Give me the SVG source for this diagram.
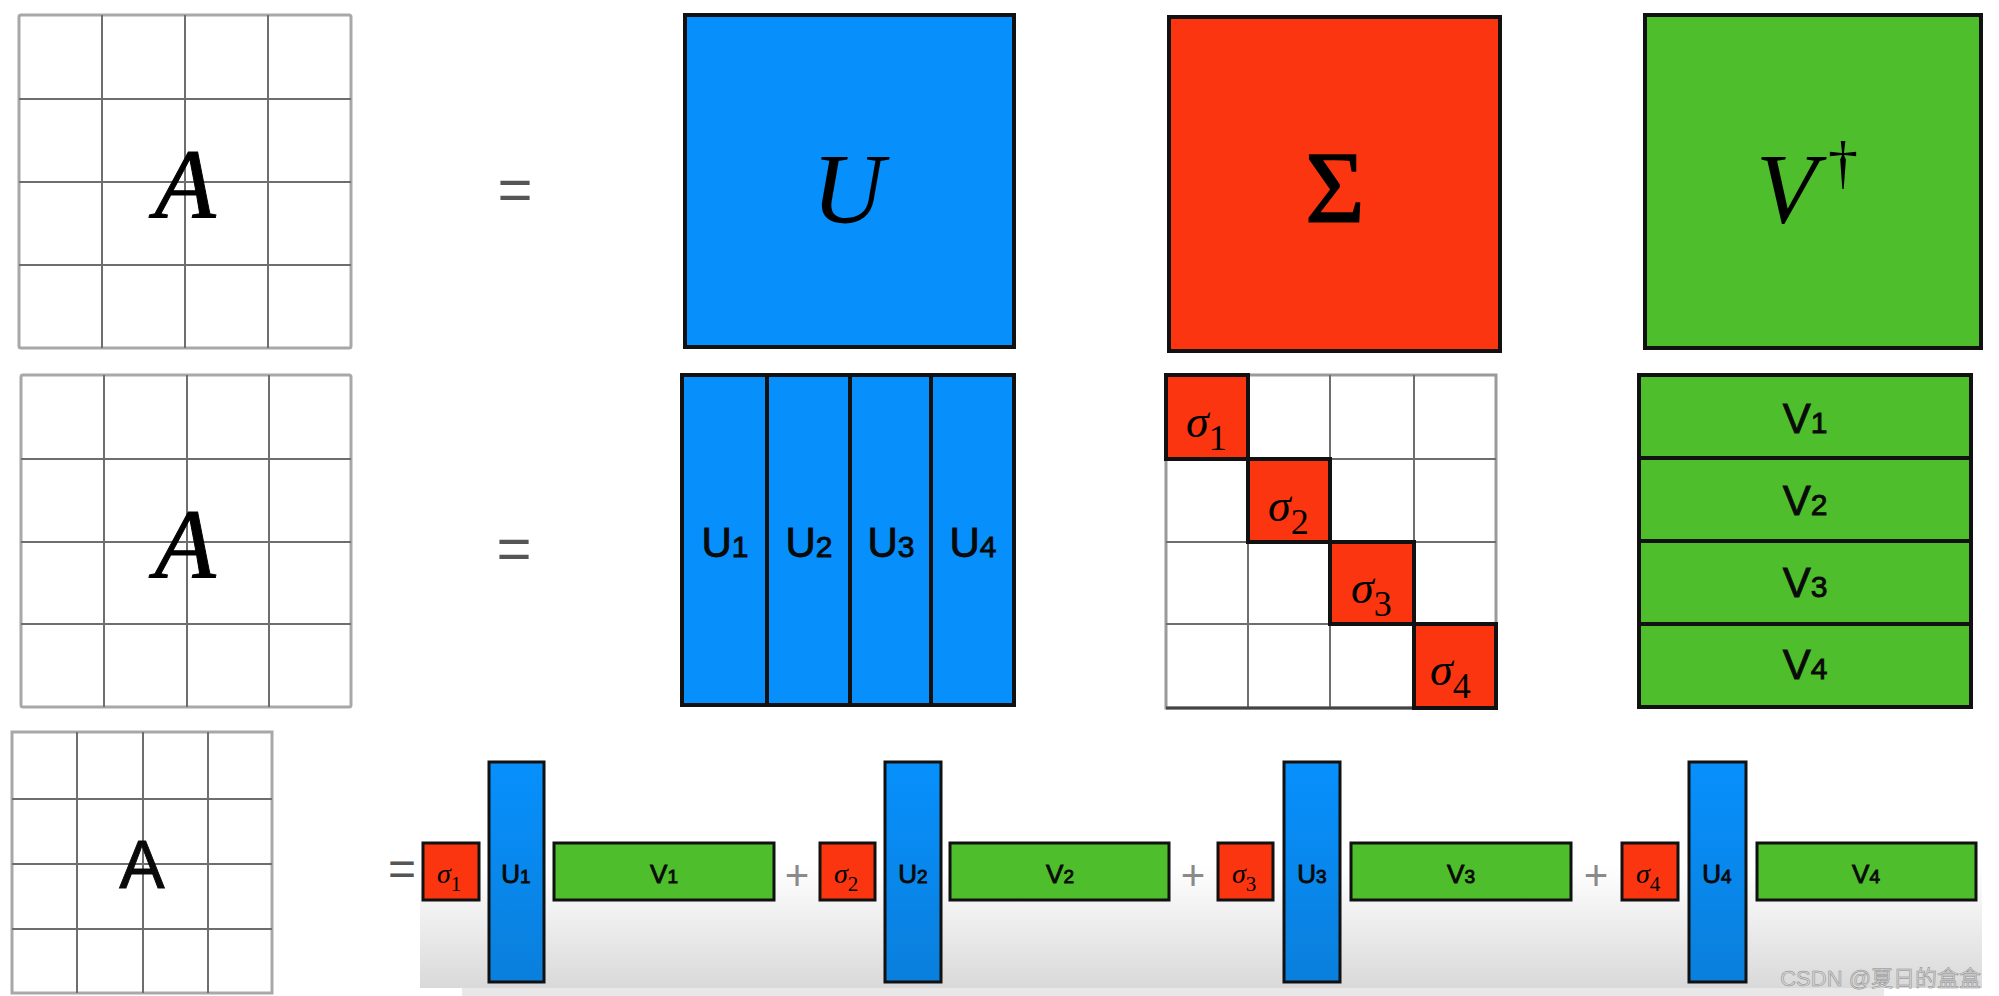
<svg xmlns="http://www.w3.org/2000/svg" width="1999" height="996" viewBox="0 0 1999 996">
<defs>
<linearGradient id="panel" x1="0" y1="0" x2="0" y2="1">
<stop offset="0" stop-color="#ffffff"/>
<stop offset="1" stop-color="#d9d9d9"/>
</linearGradient>
<linearGradient id="ubar" x1="0" y1="0" x2="0" y2="1">
<stop offset="0" stop-color="#0790fc"/>
<stop offset="1" stop-color="#0a7fdc"/>
</linearGradient>
<style>
.gridOuter{fill:#fff;stroke:#a8a8a8;stroke-width:3}
.gridLine{stroke:#6e6e6e;stroke-width:2;fill:none}
.blue{fill:#078ffb;stroke:#111;stroke-width:4}
.red{fill:#fb3510;stroke:#111;stroke-width:4}
.green{fill:#4ebe2c;stroke:#111;stroke-width:4}
.blue3{fill:url(#ubar);stroke:#111;stroke-width:3}
.red3{fill:#fb3510;stroke:#111;stroke-width:3}
.green3{fill:#4ebe2c;stroke:#111;stroke-width:3}
.bar{stroke:#111;stroke-width:4}
.serifI{font-family:"Liberation Serif",serif;font-style:italic;fill:#000}
.serif{font-family:"Liberation Serif",serif;fill:#000}
.sans{font-family:"Liberation Sans",Arial,sans-serif;fill:#0a0a0a;stroke:#0a0a0a;stroke-width:0.9}
.op{font-family:"Liberation Sans",Arial,sans-serif;fill:#555}
.plus{font-family:"Liberation Sans",Arial,sans-serif;fill:#8a8a8a}
</style>
</defs>
<rect width="1999" height="996" fill="#fff"/>

<!-- Row 1 -->
<g id="A1">
<rect class="gridOuter" x="19" y="15" width="332" height="333" rx="2"/>
<path class="gridLine" d="M102 15V348M185 15V348M268 15V348M19 99H351M19 182H351M19 265H351"/>
<text class="serifI" x="185" y="218" font-size="100" text-anchor="middle" stroke="#000" stroke-width="1">A</text>
</g>
<g id="eq1"><text class="op" x="515" y="210" font-size="60" text-anchor="middle">=</text></g>
<g id="U">
<rect class="blue" x="685" y="15" width="329" height="332"/>
<text class="serifI" x="848" y="222" font-size="100" text-anchor="middle">U</text>
</g>
<g id="Sigma">
<rect class="red" x="1169" y="17" width="331" height="334"/>
<text class="serif" x="1335" y="222" font-size="102" text-anchor="middle" stroke="#000" stroke-width="1.5">Σ</text>
</g>
<g id="Vdag">
<rect class="green" x="1645" y="15" width="336" height="333"/>
<text class="serifI" x="1756" y="222" font-size="100">V</text>
<text class="serif" x="1828" y="182" font-size="60">†</text>
</g>

<!-- Row 2 -->
<g id="A2">
<rect class="gridOuter" x="21" y="375" width="330" height="332" rx="2"/>
<path class="gridLine" d="M104 375V707M187 375V707M269 375V707M21 459H351M21 542H351M21 624H351"/>
<text class="serifI" x="185" y="578" font-size="100" text-anchor="middle" stroke="#000" stroke-width="1">A</text>
</g>
<g id="eq2"><text class="op" x="514" y="569" font-size="60" text-anchor="middle">=</text></g>
<g id="Ucols">
<rect class="blue" x="682" y="375" width="332" height="330"/>
<path class="bar" d="M767 375V705M850 375V705M931 375V705"/>
<text class="sans" x="725" y="557" font-size="42" text-anchor="middle">U<tspan font-size="30">1</tspan></text>
<text class="sans" x="809" y="557" font-size="42" text-anchor="middle">U<tspan font-size="30">2</tspan></text>
<text class="sans" x="891" y="557" font-size="42" text-anchor="middle">U<tspan font-size="30">3</tspan></text>
<text class="sans" x="973" y="557" font-size="42" text-anchor="middle">U<tspan font-size="30">4</tspan></text>
</g>
<g id="SigmaDiag">
<rect x="1166" y="375" width="330" height="333" fill="#fff" stroke="#9a9a9a" stroke-width="3"/>
<path class="gridLine" d="M1248 375V708M1330 375V708M1414 375V708M1166 459H1496M1166 542H1496M1166 624H1496" stroke="#8a8a8a"/>
<path d="M1166 708H1496" stroke="#444" stroke-width="3"/>
<rect class="red" x="1166" y="375" width="82" height="84"/>
<rect class="red" x="1248" y="459" width="82" height="83"/>
<rect class="red" x="1330" y="542" width="84" height="82"/>
<rect class="red" x="1414" y="624" width="82" height="84"/>
<text class="serifI" x="1186" y="437" font-size="46">σ<tspan class="serif" font-style="normal" font-size="36" dy="13">1</tspan></text>
<text class="serifI" x="1268" y="521" font-size="46">σ<tspan font-style="normal" font-size="36" dy="13">2</tspan></text>
<text class="serifI" x="1351" y="603" font-size="46">σ<tspan font-style="normal" font-size="36" dy="13">3</tspan></text>
<text class="serifI" x="1430" y="685" font-size="46">σ<tspan font-style="normal" font-size="36" dy="13">4</tspan></text>
</g>
<g id="Vrows">
<rect class="green" x="1639" y="375" width="332" height="332"/>
<path class="bar" d="M1639 458H1971M1639 541H1971M1639 624H1971"/>
<text class="sans" x="1805" y="433" font-size="42" text-anchor="middle">V<tspan font-size="30">1</tspan></text>
<text class="sans" x="1805" y="515" font-size="42" text-anchor="middle">V<tspan font-size="30">2</tspan></text>
<text class="sans" x="1805" y="597" font-size="42" text-anchor="middle">V<tspan font-size="30">3</tspan></text>
<text class="sans" x="1805" y="679" font-size="42" text-anchor="middle">V<tspan font-size="30">4</tspan></text>
</g>

<!-- Row 3 -->
<g id="panel">
<rect x="420" y="866" width="1562" height="122" fill="url(#panel)"/>
<rect x="462" y="988" width="1422" height="8" fill="#e8e8e8"/>
</g>
<g id="A3">
<rect class="gridOuter" x="12" y="732" width="260" height="261"/>
<path class="gridLine" d="M77 732V993M143 732V993M208 732V993M12 799H272M12 864H272M12 929H272"/>
<text class="sans" x="142" y="888" font-size="68" text-anchor="middle" stroke-width="1.2">A</text>
</g>
<g id="eq3"><text class="op" x="402" y="885" font-size="48" text-anchor="middle">=</text></g>

<g id="term1">
<rect class="red3" x="423" y="843" width="56" height="57"/>
<text class="serifI" x="437" y="883" font-size="28">σ<tspan font-style="normal" font-size="21" dy="8">1</tspan></text>
<rect class="blue3" x="489" y="762" width="55" height="220"/>
<text class="sans" x="516" y="883" font-size="26" text-anchor="middle" stroke-width="0.6">U<tspan font-size="19">1</tspan></text>
<rect class="green3" x="554" y="843" width="220" height="57"/>
<text class="sans" x="664" y="883" font-size="26" text-anchor="middle" stroke-width="0.6">V<tspan font-size="19">1</tspan></text>
</g>
<g id="plus1"><text class="plus" x="797" y="890" font-size="42" text-anchor="middle">+</text></g>
<g id="term2">
<rect class="red3" x="820" y="843" width="55" height="57"/>
<text class="serifI" x="834" y="883" font-size="28">σ<tspan font-style="normal" font-size="21" dy="8">2</tspan></text>
<rect class="blue3" x="885" y="762" width="56" height="220"/>
<text class="sans" x="913" y="883" font-size="26" text-anchor="middle" stroke-width="0.6">U<tspan font-size="19">2</tspan></text>
<rect class="green3" x="950" y="843" width="219" height="57"/>
<text class="sans" x="1060" y="883" font-size="26" text-anchor="middle" stroke-width="0.6">V<tspan font-size="19">2</tspan></text>
</g>
<g id="plus2"><text class="plus" x="1193" y="890" font-size="42" text-anchor="middle">+</text></g>
<g id="term3">
<rect class="red3" x="1218" y="843" width="55" height="57"/>
<text class="serifI" x="1232" y="883" font-size="28">σ<tspan font-style="normal" font-size="21" dy="8">3</tspan></text>
<rect class="blue3" x="1284" y="762" width="56" height="220"/>
<text class="sans" x="1312" y="883" font-size="26" text-anchor="middle" stroke-width="0.6">U<tspan font-size="19">3</tspan></text>
<rect class="green3" x="1351" y="843" width="220" height="57"/>
<text class="sans" x="1461" y="883" font-size="26" text-anchor="middle" stroke-width="0.6">V<tspan font-size="19">3</tspan></text>
</g>
<g id="plus3"><text class="plus" x="1596" y="890" font-size="42" text-anchor="middle">+</text></g>
<g id="term4">
<rect class="red3" x="1622" y="843" width="56" height="57"/>
<text class="serifI" x="1636" y="883" font-size="28">σ<tspan font-style="normal" font-size="21" dy="8">4</tspan></text>
<rect class="blue3" x="1689" y="762" width="57" height="220"/>
<text class="sans" x="1717" y="883" font-size="26" text-anchor="middle" stroke-width="0.6">U<tspan font-size="19">4</tspan></text>
<rect class="green3" x="1757" y="843" width="219" height="57"/>
<text class="sans" x="1866" y="883" font-size="26" text-anchor="middle" stroke-width="0.6">V<tspan font-size="19">4</tspan></text>
</g>

<g id="watermark">
<text x="1981" y="986" font-size="22" text-anchor="end" font-family="'Liberation Sans','Noto Sans CJK SC',sans-serif" fill="#d6d6d6" stroke="#8a8a8a" stroke-width="0.5">CSDN @夏日的盒盒</text>
</g>
</svg>
